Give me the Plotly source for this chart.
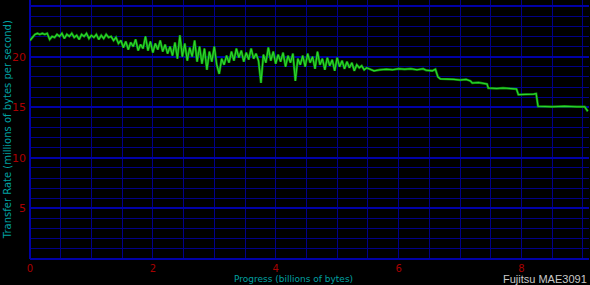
import plotly.graph_objects as go

# Progress (billions of bytes) for the noisy part, sampled every 0.04
progress_noisy = [
    0.00, 0.04, 0.08, 0.12, 0.16, 0.20, 0.24, 0.28, 0.32, 0.36,
    0.40, 0.44, 0.48, 0.52, 0.56, 0.60, 0.64, 0.68, 0.72, 0.76,
    0.80, 0.84, 0.88, 0.92, 0.96, 1.00, 1.04, 1.08, 1.12, 1.16,
    1.20, 1.24, 1.28, 1.32, 1.36, 1.40, 1.44, 1.48, 1.52, 1.56,
    1.60, 1.64, 1.68, 1.72, 1.76, 1.80, 1.84, 1.88, 1.92, 1.96,
    2.00, 2.04, 2.08, 2.12, 2.16, 2.20, 2.24, 2.28, 2.32, 2.36,
    2.40, 2.44, 2.48, 2.52, 2.56, 2.60, 2.64, 2.68, 2.72, 2.76,
    2.80, 2.84, 2.88, 2.92, 2.96, 3.00, 3.04, 3.08, 3.12, 3.16,
    3.20, 3.24, 3.28, 3.32, 3.36, 3.40, 3.44, 3.48, 3.52, 3.56,
    3.60, 3.64, 3.68, 3.72, 3.76, 3.80, 3.84, 3.88, 3.92, 3.96,
    4.00, 4.04, 4.08, 4.12, 4.16, 4.20, 4.24, 4.28, 4.32, 4.36,
    4.40, 4.44, 4.48, 4.52, 4.56, 4.60, 4.64, 4.68, 4.72, 4.76,
    4.80, 4.84, 4.88, 4.92, 4.96, 5.00, 5.04, 5.08, 5.12, 5.16,
    5.20, 5.24, 5.28, 5.32, 5.36, 5.40, 5.44, 5.48, 5.52, 5.56,
]
rate_noisy = [
    21.6, 21.9, 22.2, 22.3, 22.2, 22.3, 22.2, 22.3, 21.7, 22.0,
    21.9, 22.2, 22.0, 22.3, 21.8, 22.2, 22.0, 22.3, 21.9, 22.1,
    21.7, 22.2, 22.0, 22.3, 21.8, 22.1, 21.9, 22.2, 21.7, 22.1,
    21.8, 22.2, 21.9, 22.0, 21.6, 21.9, 21.3, 21.6, 20.9, 21.5,
    20.7, 21.4, 21.0, 21.7, 20.6, 21.2, 20.8, 22.0, 20.6, 21.5,
    20.4, 21.3, 20.7, 21.6, 20.5, 21.2, 20.3, 21.0, 20.1, 21.4,
    19.8, 22.1, 20.0, 21.3, 19.6, 20.9, 20.0, 21.6, 19.5, 21.0,
    19.3, 20.8, 18.7, 20.5, 19.5, 21.0, 19.2, 18.3, 19.8, 19.2,
    20.1, 19.4, 20.5, 19.6, 20.8, 19.9, 20.6, 19.5, 20.4, 19.7,
    20.8, 19.8, 20.3, 19.6, 17.4, 20.2, 19.4, 20.9, 19.6, 20.5,
    19.3, 20.2, 19.5, 20.4, 19.0, 20.1, 19.4, 20.3, 17.6, 19.8,
    19.2, 20.1, 19.0, 20.3, 19.4, 20.0, 18.8, 20.5, 19.2, 19.8,
    18.7, 19.9, 19.1, 19.7, 18.6, 19.9, 19.0, 19.6, 18.8, 19.5,
    18.9, 19.4, 18.6, 19.2, 18.9, 19.1, 18.7, 18.9, 18.8, 18.7,
]
# Smooth, stepped part near the end of the disk
progress_tail = [
    5.60, 5.70, 5.80, 5.90, 6.00, 6.10, 6.20, 6.30, 6.40, 6.45,
    6.55, 6.60, 6.64, 6.68, 6.80, 6.90, 7.00, 7.10, 7.17, 7.20,
    7.30, 7.40, 7.44, 7.46, 7.60, 7.70, 7.85, 7.92, 7.95, 8.05,
    8.20, 8.24, 8.27, 8.50, 8.70, 8.90, 9.03, 9.08,
]
rate_tail = [
    18.6, 18.7, 18.75, 18.7, 18.8, 18.75, 18.8, 18.7, 18.8, 18.65,
    18.6, 18.75, 18.0, 17.8, 17.8, 17.75, 17.7, 17.75, 17.6, 17.4,
    17.45, 17.35, 17.3, 16.9, 16.85, 16.9, 16.85, 16.8, 16.25, 16.25,
    16.3, 16.35, 15.1, 15.05, 15.1, 15.05, 15.05, 14.6,
]

x_ticks = [0, 2, 4, 6, 8]
y_ticks = [0, 5, 10, 15, 20, 25]
y_ticktext = ["", "5", "10", "15", "20", "25"]

progress = progress_noisy + progress_tail
rate = rate_noisy + rate_tail

GRID = "#000088"
GRID_MAJ = "#0000a8"
TICK = "#a80000"
TEAL = "#00a0a0"

fig = go.Figure()
fig.add_trace(go.Scatter(
    x=progress, y=rate, mode="lines",
    line=dict(color="#0b8a0b", width=2.4),
    hoverinfo="skip", showlegend=False,
))
fig.add_trace(go.Scatter(
    x=progress, y=rate, mode="lines",
    line=dict(color="#2ed62e", width=1.1),
    hoverinfo="skip", showlegend=False,
))

fig.update_layout(
    width=590, height=285,
    margin=dict(l=30, r=1, t=0, b=26),
    paper_bgcolor="black", plot_bgcolor="black",
    font=dict(family="DejaVu Sans", size=10, color=TICK),
    xaxis=dict(
        range=[0, 9.1], tickvals=x_ticks, ticks="",
        showgrid=True, gridcolor=GRID, gridwidth=1,
        zeroline=True, zerolinecolor=GRID_MAJ, zerolinewidth=2,
        tickfont=dict(size=10, color=TICK), ticklabelstandoff=2,
        minor=dict(tickmode="linear", tick0=0, dtick=0.5, showgrid=True,
                   gridcolor=GRID, gridwidth=1, ticks=""),
        showline=False,
    ),
    yaxis=dict(
        range=[0, 25.6], tickvals=y_ticks, ticktext=y_ticktext, ticks="",
        showgrid=True, gridcolor=GRID_MAJ, gridwidth=2,
        zeroline=True, zerolinecolor=GRID_MAJ, zerolinewidth=2,
        tickfont=dict(size=11, color=TICK), ticklabelstandoff=3,
        minor=dict(tickmode="linear", tick0=0, dtick=1, showgrid=True,
                   gridcolor=GRID, gridwidth=1, ticks=""),
        showline=False,
    ),
    annotations=[
        dict(text="Transfer Rate (millions of bytes per second)",
             xref="paper", yref="paper", x=-0.04, y=0.5,
             xanchor="center", yanchor="middle", textangle=-90,
             showarrow=False, font=dict(family="DejaVu Sans", size=10, color=TEAL)),
        dict(text="Progress (billions of bytes)",
             xref="paper", yref="paper", x=0.472, y=-0.077,
             xanchor="center", yanchor="middle",
             showarrow=False, font=dict(family="DejaVu Sans", size=9, color=TEAL)),
        dict(text="Fujitsu MAE3091",
             xref="paper", yref="paper", x=1.0, y=-0.077,
             xanchor="right", yanchor="middle",
             showarrow=False, font=dict(family="Liberation Sans", size=11, color="#c8c8c8")),
    ],
)

fig.write_html("out.html")
